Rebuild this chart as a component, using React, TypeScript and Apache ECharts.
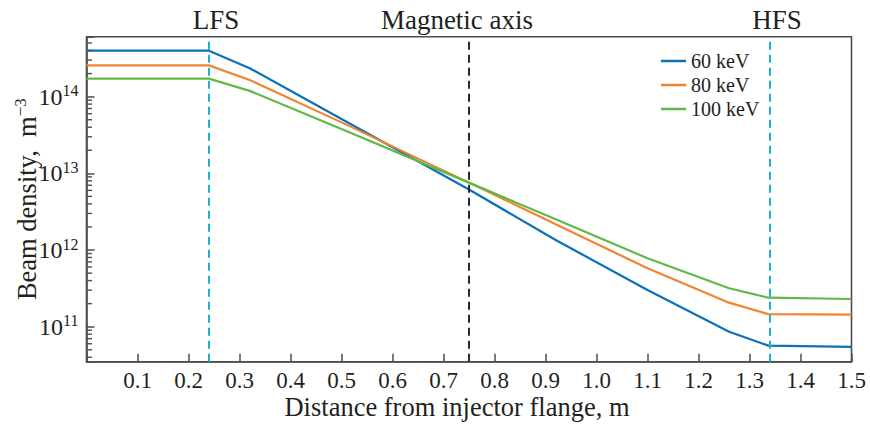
import { useEffect, useRef } from 'react';
import * as echarts from 'echarts';

// Distance from the injector flange, m
const positions = [0, 0.24, 0.32, 0.5, 0.75, 0.92, 1.1, 1.26, 1.337, 1.5];
// Beam density, m^-3
const density60 = [3.98e14, 3.98e14, 2.35e14, 5.1e13, 6.17e12, 1.35e12, 3.02e11, 8.6e10, 5.67e10, 5.46e10];
const density80 = [2.56e14, 2.56e14, 1.65e14, 4.62e13, 7.57e12, 2.17e12, 5.79e11, 2.06e11, 1.46e11, 1.44e11];
const density100 = [1.72e14, 1.72e14, 1.19e14, 3.78e13, 7.57e12, 2.52e12, 7.82e11, 3.18e11, 2.39e11, 2.3e11];

const seriesNames = ['60 keV', '80 keV', '100 keV'];
const seriesColors = ['#0b71b8', '#f2842f', '#62b846'];

// Vertical reference lines
const guideNames = ['LFS', 'Magnetic axis', 'HFS'];
const guidePositions = [0.24, 0.75, 1.337];
const guideColors = ['#1ab3cf', '#2a2a2a', '#1ab3cf'];
const guideLabelPadding = [[0, 0, 0, 14], [0, 24, 0, 0], [0, 0, 0, 14]];

const xMin = 0;
const xMax = 1.5;
const xStep = 0.1;
const yMin = 3.5e10;
const yMax = 6.05e14;

const FONT = '"Liberation Serif", "Times New Roman", serif';
const INK = '#231f20';
const AXIS = '#4d4d4d';

// Minor log ticks (2..9 x 10^n) inside the visible range
function minorLogTicks(lo: number, hi: number): number[] {
  const out: number[] = [];
  for (let e = Math.floor(Math.log10(lo)); e <= Math.ceil(Math.log10(hi)); e++) {
    for (let m = 2; m <= 9; m++) {
      const v = m * Math.pow(10, e);
      if (v > lo && v < hi) out.push(v);
    }
  }
  return out;
}

export default function App() {
  const ref = useRef<HTMLDivElement>(null);

  useEffect(() => {
    if (!ref.current) return;
    const chart = echarts.init(ref.current, null, { renderer: 'svg' });

    const curves = [density60, density80, density100].map((vals, i) => ({
      name: seriesNames[i],
      type: 'line',
      data: positions.map((x, j) => [x, vals[j]]),
      showSymbol: false,
      symbol: 'none',
      lineStyle: { color: seriesColors[i], width: 2.2 },
      itemStyle: { color: seriesColors[i] },
      z: 3,
    }));

    const option: any = {
      animation: false,
      grid: {
        left: 86.5,
        right: 18.5,
        top: 36.7,
        bottom: 64.3,
        containLabel: false,
        outerBoundsMode: 'none',
        show: true,
        borderColor: AXIS,
        borderWidth: 1.6,
        backgroundColor: 'transparent',
      },
      legend: {
        data: seriesNames.map((n) => ({ name: n, icon: 'rect' })),
        orient: 'vertical',
        left: 656,
        top: 46,
        itemWidth: 25,
        itemHeight: 2.5,
        itemGap: 4,
        textStyle: { fontFamily: FONT, fontSize: 20, color: INK, lineHeight: 20 },
      },
      xAxis: {
        type: 'value',
        min: xMin,
        max: xMax,
        interval: xStep,
        name: 'Distance from injector flange, m',
        nameLocation: 'middle',
        nameGap: 33,
        nameMoveOverlap: false,
        nameTextStyle: {
          fontFamily: FONT,
          fontSize: 26.5,
          lineHeight: 24,
          color: INK,
          padding: [0, 24, 0, 0],
        },
        axisLine: { show: true, lineStyle: { color: AXIS, width: 1.6 } },
        axisTick: { show: true, inside: true, length: 8, lineStyle: { color: AXIS, width: 1.5 } },
        axisLabel: {
          fontFamily: FONT,
          fontSize: 23,
          lineHeight: 22,
          color: INK,
          margin: 8,
          formatter: (v: number) => (Math.abs(v) < 1e-9 ? '' : v.toFixed(1)),
        },
        splitLine: { show: false },
      },
      yAxis: {
        type: 'log',
        logBase: 10,
        min: yMin,
        max: yMax,
        name: '{n|Beam density,  m}{s|−3}',
        nameLocation: 'middle',
        nameGap: 45,
        nameMoveOverlap: false,
        nameTextStyle: {
          fontFamily: FONT,
          color: INK,
          rich: {
            n: { fontFamily: FONT, fontSize: 26.5, color: INK, lineHeight: 30 },
            s: { fontFamily: FONT, fontSize: 17, color: INK, verticalAlign: 'top', lineHeight: 30 },
          },
        },
        axisLine: { show: true, lineStyle: { color: AXIS, width: 1.6 } },
        axisTick: { show: true, inside: true, length: 8, lineStyle: { color: AXIS, width: 1.5 } },
        minorTick: { show: false },
        showMinLabel: false,
        showMaxLabel: false,
        axisLabel: {
          margin: 8,
          formatter: (v: number) => {
            const e = Math.log10(v);
            if (Math.abs(e - Math.round(e)) > 1e-6) return '';
            return `{b|10}{s|${Math.round(e)}}`;
          },
          rich: {
            b: { fontFamily: FONT, fontSize: 24, color: INK, lineHeight: 28 },
            s: { fontFamily: FONT, fontSize: 16, color: INK, verticalAlign: 'top', lineHeight: 28 },
          },
        },
        splitLine: { show: false },
      },
      series: [
        ...curves,
        {
          name: 'guides',
          type: 'line',
          data: [],
          silent: true,
          markLine: {
            silent: true,
            symbol: 'none',
            animation: false,
            data: guidePositions.map((x, i) => ({
              xAxis: x,
              lineStyle: { color: guideColors[i], width: 2, type: [8, 5] },
              label: {
                show: true,
                position: 'end',
                formatter: guideNames[i],
                fontFamily: FONT,
                fontSize: 27,
                color: INK,
                distance: 3,
                padding: guideLabelPadding[i],
              },
            })),
          },
        },
        {
          name: 'minorTicks',
          type: 'custom',
          silent: true,
          data: minorLogTicks(yMin, yMax).map((v) => [xMin, v]),
          renderItem: (_params: any, api: any) => {
            const p = api.coord([api.value(0), api.value(1)]);
            return {
              type: 'line',
              shape: { x1: p[0], y1: p[1], x2: p[0] + 5.5, y2: p[1] },
              style: { stroke: AXIS, lineWidth: 1.4 },
            };
          },
          z: 4,
        },
      ],
    };

    chart.setOption(option);
    return () => chart.dispose();
  }, []);

  return (
    <div
      ref={ref}
      style={{ position: 'fixed', left: 0, top: 0, width: 870, height: 426, background: '#fff' }}
    />
  );
}
